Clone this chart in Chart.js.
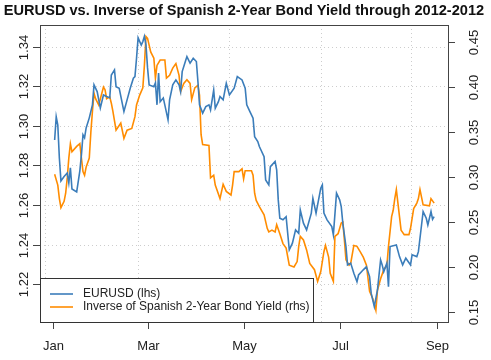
<!DOCTYPE html>
<html>
<head>
<meta charset="utf-8">
<script src="https://cdn.jsdelivr.net/npm/chart.js@4.4.1/dist/chart.umd.min.js"></script>
<style>
  html, body { margin: 0; padding: 0; background: #fff; }
  #wrap { width: 491px; height: 360px; }
</style>
</head>
<body>
<div id="wrap"><canvas id="c" width="491" height="360"></canvas></div>
<script>
/* EURUSD vs inverse Spanish 2y yield, 2012. x = day of year (Jan 1 = 0). */
const TITLE = "EURUSD vs. Inverse of Spanish 2-Year Bond Yield through 2012-2012";

const EUR_DAYS = [1,2,3,4,5,7,9,10,11,12,15,17,18,19,20,21,23,25,26,28,30,32,34,36,37,39,40,42,45,47,49,51,52,53,54,56,57,58,59,60,61,64,65,66,67,68,70,73,74,76,78,80,81,82,84,85,87,89,91,92,93,95,97,99,100,102,103,105,106,108,110,112,115,117,120,122,123,125,127,128,130,131,134,135,137,138,141,142,143,144,146,148,149,150,152,154,156,157,159,161,164,165,167,170,171,172,174,177,178,180,182,183,184,186,187,189,191,193,194,197,199,201,202,204,206,208,209,210,212,213,214,218,220,222,224,227,228,231,232,234,235,237,238,240,241,242];
const EUR_VALS = [1.2929,1.3047,1.3005,1.2838,1.2722,1.2744,1.2762,1.2712,1.2788,1.2681,1.2666,1.2773,1.2854,1.2955,1.2940,1.2990,1.3041,1.3107,1.3208,1.3174,1.3091,1.3157,1.3149,1.3142,1.3258,1.3284,1.3199,1.3191,1.3073,1.3132,1.3191,1.3242,1.3250,1.3343,1.3446,1.3410,1.3427,1.3453,1.3410,1.3294,1.3208,1.3199,1.3218,1.3107,1.3268,1.3123,1.3142,1.3031,1.3132,1.3208,1.3233,1.3208,1.3174,1.3275,1.3326,1.3351,1.3318,1.3343,1.3326,1.3224,1.3107,1.3065,1.3098,1.3107,1.3081,1.3182,1.3090,1.3123,1.3149,1.3132,1.3216,1.3157,1.3191,1.3250,1.3233,1.3191,1.3107,1.3073,1.3039,1.2946,1.2921,1.2896,1.2845,1.2727,1.2702,1.2794,1.2820,1.2778,1.2626,1.2533,1.2525,1.2541,1.2457,1.2373,1.2407,1.2474,1.2457,1.2575,1.2508,1.2474,1.2559,1.2634,1.2559,1.2685,1.2702,1.2559,1.2525,1.2491,1.2449,1.2660,1.2626,1.2592,1.2508,1.2390,1.2297,1.2306,1.2255,1.2212,1.2246,1.2272,1.2288,1.2238,1.2154,1.2086,1.2170,1.2322,1.2297,1.2263,1.2306,1.2187,1.2390,1.2398,1.2339,1.2297,1.2331,1.2297,1.2348,1.2339,1.2364,1.2499,1.2567,1.2533,1.2499,1.2567,1.2528,1.2541];

const YLD_DAYS = [1,3,4,5,7,8,9,10,11,12,15,17,18,19,20,21,23,24,25,26,27,29,32,33,34,36,37,38,40,43,45,47,50,52,53,55,57,58,59,60,62,64,65,66,68,71,72,74,76,78,80,81,83,85,87,88,90,92,93,94,95,99,100,102,103,106,108,110,113,114,115,118,120,121,122,126,127,128,129,131,134,136,137,139,141,142,144,146,148,150,153,155,156,157,159,161,163,166,168,170,172,173,175,176,178,179,181,183,184,185,186,188,189,191,193,195,197,199,201,203,205,206,208,210,212,213,215,216,217,218,220,221,223,226,227,229,231,232,233,235,239,240,242];
const YLD_VALS = [0.303,0.291,0.276,0.266,0.273,0.282,0.299,0.321,0.337,0.328,0.334,0.337,0.321,0.306,0.302,0.311,0.321,0.350,0.373,0.393,0.387,0.380,0.400,0.397,0.387,0.389,0.382,0.373,0.352,0.360,0.343,0.352,0.354,0.367,0.380,0.391,0.399,0.424,0.456,0.454,0.439,0.432,0.410,0.424,0.430,0.430,0.410,0.413,0.421,0.426,0.413,0.395,0.404,0.408,0.404,0.386,0.399,0.402,0.391,0.347,0.336,0.335,0.299,0.302,0.291,0.276,0.292,0.284,0.280,0.291,0.306,0.306,0.309,0.298,0.307,0.307,0.302,0.282,0.274,0.267,0.258,0.243,0.239,0.241,0.239,0.247,0.237,0.226,0.221,0.202,0.200,0.206,0.223,0.234,0.230,0.219,0.204,0.197,0.184,0.195,0.217,0.224,0.211,0.193,0.184,0.234,0.237,0.249,0.250,0.230,0.208,0.202,0.204,0.224,0.223,0.217,0.211,0.202,0.173,0.165,0.152,0.174,0.187,0.197,0.202,0.223,0.256,0.263,0.276,0.286,0.256,0.241,0.236,0.236,0.243,0.265,0.271,0.276,0.286,0.269,0.268,0.276,0.271];

const MONTH_DAYS = [0, 60, 121, 182, 244];
const MONTH_LABELS = ["Jan", "Mar", "May", "Jul", "Sep"];
const GRID_DAYS = [-5, 54, 112, 170, 227];
const LEFT_TICKS = [1.22, 1.24, 1.26, 1.28, 1.30, 1.32, 1.34];
const RIGHT_TICKS = [0.15, 0.20, 0.25, 0.30, 0.35, 0.40, 0.45];
const SERIES_LABELS = ["EURUSD (lhs)", "Inverse of Spanish 2-Year Bond Yield (rhs)"];

const BLUE = "#3b7dba", ORANGE = "#ff8c00", INK = "#222", FRAME = "#444";
const FONT = "'Liberation Sans', Arial, sans-serif";

function pts(days, vals){ return days.map((d, i) => ({ x: d, y: vals[i] })); }

// R-style dotted grid, frame, ticks, rotated labels, title and boxed legend
const rframe = {
  id: "rframe",
  beforeDatasetsDraw(chart){
    const { ctx, chartArea: a, scales } = chart;
    ctx.save();
    ctx.strokeStyle = "#cdcdcd"; ctx.lineWidth = 1; ctx.setLineDash([1, 3]);
    LEFT_TICKS.forEach(v => {
      const y = Math.round(scales.yl.getPixelForValue(v)) + 0.5;
      ctx.beginPath(); ctx.moveTo(a.left, y); ctx.lineTo(a.right, y); ctx.stroke();
    });
    GRID_DAYS.forEach(d => {
      const x = Math.round(scales.x.getPixelForValue(d)) + 0.5;
      ctx.beginPath(); ctx.moveTo(x, a.top); ctx.lineTo(x, a.bottom); ctx.stroke();
    });
    ctx.restore();
  },
  afterDatasetsDraw(chart){
    const { ctx, chartArea: a, scales } = chart;
    ctx.save();
    ctx.strokeStyle = FRAME; ctx.lineWidth = 1;
    ctx.strokeRect(a.left + 0.5, a.top + 0.5, a.right - a.left, a.bottom - a.top);

    ctx.fillStyle = INK;
    ctx.font = "13px " + FONT;
    ctx.textAlign = "center"; ctx.textBaseline = "middle";

    LEFT_TICKS.forEach(v => {
      const y = Math.round(scales.yl.getPixelForValue(v)) + 0.5;
      ctx.beginPath(); ctx.moveTo(a.left - 7, y); ctx.lineTo(a.left, y); ctx.stroke();
      ctx.save(); ctx.translate(a.left - 16, y); ctx.rotate(-Math.PI / 2);
      ctx.fillText(v.toFixed(2), 0, 0); ctx.restore();
    });
    RIGHT_TICKS.forEach(v => {
      const y = Math.round(scales.yr.getPixelForValue(v)) + 0.5;
      ctx.beginPath(); ctx.moveTo(a.right, y); ctx.lineTo(a.right + 7, y); ctx.stroke();
      ctx.save(); ctx.translate(a.right + 26, y); ctx.rotate(-Math.PI / 2);
      ctx.fillText(v.toFixed(2), 0, 0); ctx.restore();
    });
    MONTH_DAYS.forEach((d, i) => {
      const x = Math.round(scales.x.getPixelForValue(d)) + 0.5;
      ctx.beginPath(); ctx.moveTo(x, a.bottom); ctx.lineTo(x, a.bottom + 7); ctx.stroke();
      ctx.fillText(MONTH_LABELS[i], x, a.bottom + 24);
    });

    // legend box, bottom-left inside the plot
    const lx = a.left, ly = 278, lw = 273, lh = a.bottom - ly;
    ctx.fillStyle = "#fff";
    ctx.fillRect(lx + 0.5, ly + 0.5, lw, lh);
    ctx.strokeStyle = "#333";
    ctx.strokeRect(lx + 0.5, ly + 0.5, lw, lh);
    ctx.font = "12px " + FONT;
    [BLUE, ORANGE].forEach((col, i) => {
      const y = ly + 16 + i * 13;
      ctx.strokeStyle = col; ctx.lineWidth = 1.6;
      ctx.beginPath(); ctx.moveTo(lx + 10, y); ctx.lineTo(lx + 33, y); ctx.stroke();
      ctx.fillStyle = INK; ctx.textAlign = "left";
      ctx.fillText(SERIES_LABELS[i], lx + 43, y);
    });

    ctx.fillStyle = "#111";
    ctx.font = "bold 14.6px " + FONT;
    ctx.textAlign = "center";
    ctx.fillText(TITLE, 244, 11);
    ctx.restore();
  }
};

new Chart(document.getElementById("c"), {
  type: "line",
  data: {
    datasets: [
      { label: SERIES_LABELS[0], data: pts(EUR_DAYS, EUR_VALS), yAxisID: "yl",
        borderColor: BLUE, borderWidth: 1.6, pointRadius: 0, tension: 0 },
      { label: SERIES_LABELS[1], data: pts(YLD_DAYS, YLD_VALS), yAxisID: "yr",
        borderColor: ORANGE, borderWidth: 1.6, pointRadius: 0, tension: 0 }
    ]
  },
  options: {
    responsive: false, animation: false, devicePixelRatio: 1,
    layout: { padding: { top: 25, left: 0, right: 0, bottom: 0 } },
    plugins: { legend: { display: false }, title: { display: false }, tooltip: { enabled: false } },
    scales: {
      x: { type: "linear", position: "bottom", min: -8.3, max: 250.8,
        grid: { display: false }, border: { display: false }, ticks: { display: false },
        afterFit: s => { s.height = 38; } },
      yl: { type: "linear", position: "left", min: 1.2008, max: 1.3511,
        grid: { display: false }, border: { display: false },
        ticks: { display: false }, afterFit: s => { s.width = 40; } },
      yr: { type: "linear", position: "right", min: 0.1389, max: 0.4689,
        grid: { display: false }, border: { display: false },
        ticks: { display: false }, afterFit: s => { s.width = 43; } }
    }
  },
  plugins: [rframe]
});
</script>
</body>
</html>
